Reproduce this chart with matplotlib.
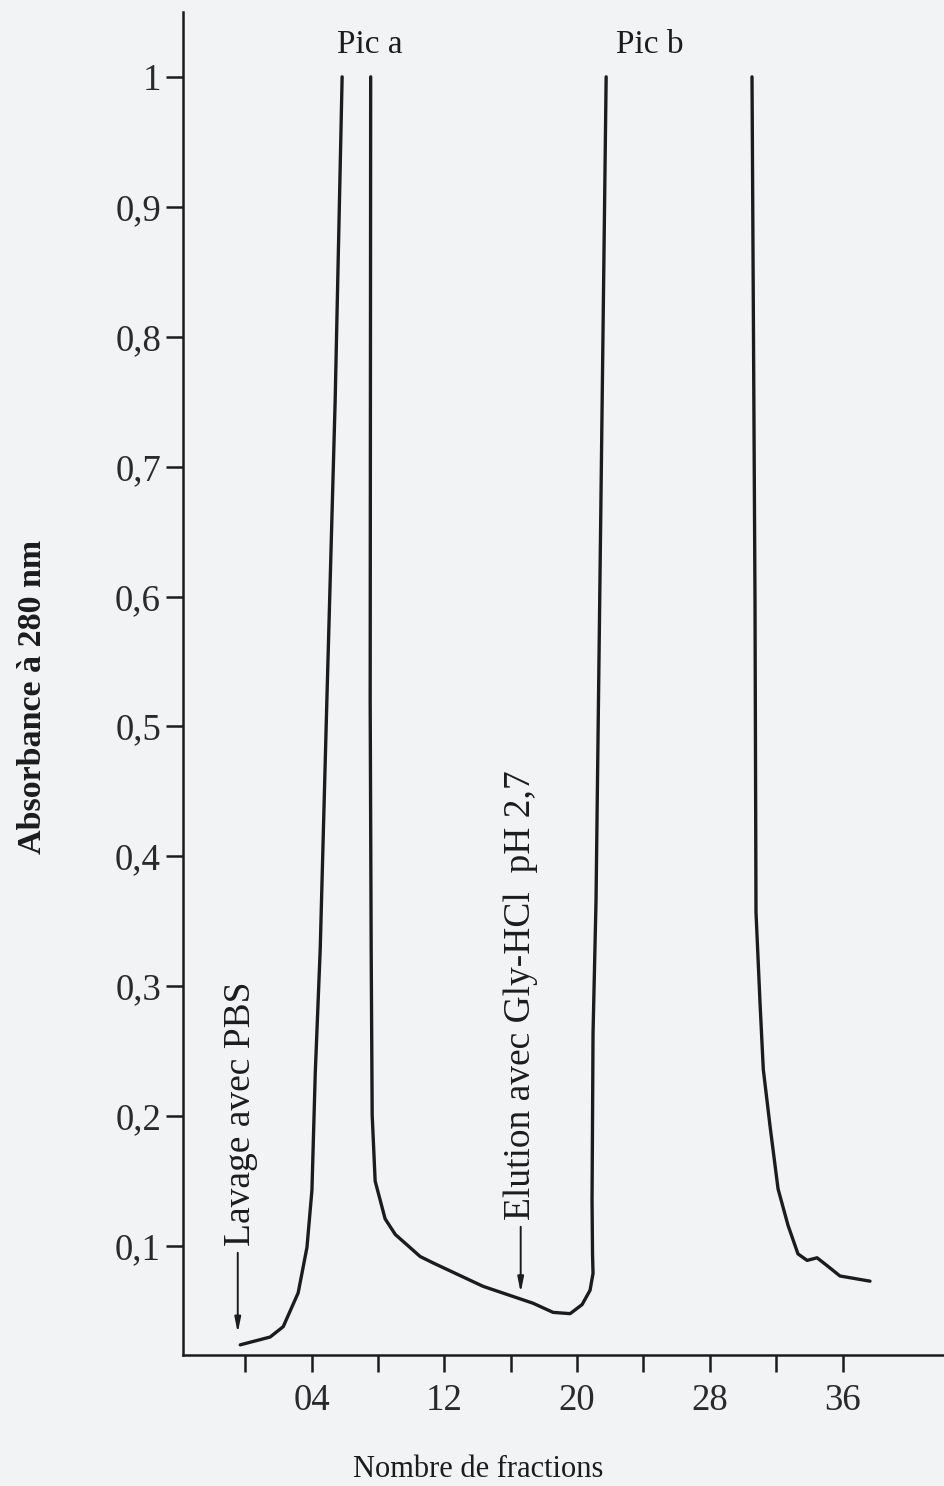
import matplotlib.pyplot as plt
import numpy as np

# chromatogramme : absorbance a 280 nm en fonction des fractions
frac_a_up = [-0.3, 1.5, 2.29, 3.19, 3.72, 4.02, 4.22, 4.52, 4.92, 5.42, 5.84]
abs_a_up = [0.024, 0.030, 0.038, 0.064, 0.099, 0.143, 0.233, 0.329, 0.52, 0.751, 1.0]

frac_a_down = [7.56, 7.53, 7.59, 7.65, 7.83, 8.43, 9.04, 10.54, 11.33, 14.34, 17.35,
               18.55, 19.58, 20.3, 20.78, 20.96, 20.93, 20.9, 20.96, 21.14, 21.75]
abs_a_down = [1.0, 0.52, 0.329, 0.201, 0.150, 0.121, 0.109, 0.092, 0.087, 0.069, 0.056,
              0.049, 0.048, 0.055, 0.066, 0.079, 0.093, 0.135, 0.264, 0.366, 1.0]

frac_b_down = [30.54, 30.72, 30.78, 31.02, 31.22, 31.63, 32.11, 32.71, 33.31, 33.86,
               34.46, 35.06, 35.84, 37.65]
abs_b_down = [1.0, 0.597, 0.357, 0.288, 0.236, 0.192, 0.144, 0.116, 0.094, 0.089,
              0.091, 0.085, 0.077, 0.073]

xticks_major = [4, 12, 20, 28, 36]
xticks_minor = [0, 8, 16, 24, 32]
xtick_labels = ['04', '12', '20', '28', '36']
yticks = [0.1, 0.2, 0.3, 0.4, 0.5, 0.6, 0.7, 0.8, 0.9, 1.0]
ytick_labels = ['0,1', '0,2', '0,3', '0,4', '0,5', '0,6', '0,7', '0,8', '0,9', '1']

plt.rcParams['font.family'] = ['Liberation Serif', 'DejaVu Serif']
ink = '#1c1c1c'
paper = '#f2f3f4'

fig = plt.figure(figsize=(9.45, 14.86), dpi=100, facecolor=paper)
ax = fig.add_axes([0.194, 0.088, 0.806, 0.904], facecolor=paper)

# les pics sortent de l'echelle : on coupe le trace entre les deux flancs
x = frac_a_up + [np.nan] + frac_a_down + [np.nan] + frac_b_down
y = abs_a_up + [np.nan] + abs_a_down + [np.nan] + abs_b_down
ax.plot(x, y, color=ink, lw=2.4, solid_capstyle='round', solid_joinstyle='round')

ax.set_xlim(-3.73, 42.17)
ax.set_ylim(0.016, 1.05)

for s in ['top', 'right']:
    ax.spines[s].set_visible(False)
for s in ['left', 'bottom']:
    ax.spines[s].set_color(ink)
    ax.spines[s].set_linewidth(1.8)

ax.set_xticks(xticks_major)
ax.set_xticklabels(xtick_labels)
ax.set_xticks(xticks_minor, minor=True)
ax.set_yticks(yticks)
ax.set_yticklabels(ytick_labels)
ax.tick_params(which='both', direction='out', length=12, width=1.8, color=ink,
               labelsize=26.5, labelcolor='#2a2a2a')
ax.tick_params(axis='y', pad=4)
ax.tick_params(axis='x', pad=8)

ax.set_ylabel('Absorbance à 280 nm', fontsize=24.5, fontweight='bold', color=ink)
ax.yaxis.set_label_coords(-0.178, 0.49)
ax.set_xlabel('Nombre de fractions', fontsize=22, color=ink)
ax.xaxis.set_label_coords(0.387, -0.074)

ax.text(7.5, 1.025, 'Pic a', fontsize=24, ha='center', va='center', color=ink)
ax.text(24.4, 1.025, 'Pic b', fontsize=24, ha='center', va='center', color=ink)

arrow = dict(arrowstyle='-|>,head_length=0.9,head_width=0.18', color=ink, lw=1.4)
ax.annotate('', xy=(-0.45, 0.031), xytext=(-0.45, 0.097), arrowprops=arrow)
ax.text(-0.25, 0.10, 'Lavage avec PBS', rotation=90, fontsize=27,
        ha='center', va='bottom', color=ink)
ax.annotate('', xy=(16.6, 0.062), xytext=(16.6, 0.117), arrowprops=arrow)
ax.text(16.6, 0.12, 'Elution avec Gly-HCl  pH 2,7', rotation=90, fontsize=27,
        ha='center', va='bottom', color=ink)

fig.savefig('out.png', dpi=100, facecolor=paper)
